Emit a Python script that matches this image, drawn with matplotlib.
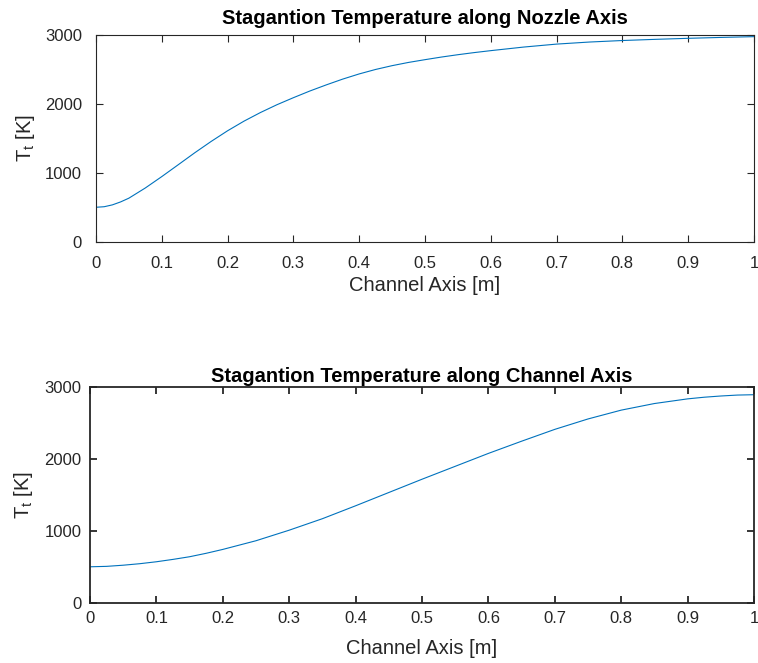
import numpy as np
import matplotlib.pyplot as plt
from matplotlib.ticker import FuncFormatter

plt.rcParams["font.family"] = "Liberation Sans"
plt.rcParams["mathtext.fontset"] = "custom"
plt.rcParams["mathtext.rm"] = "Liberation Sans"
plt.rcParams["mathtext.it"] = "Liberation Sans:italic"

# --- values ---
x_nozzle = [0.0, 0.0125, 0.025, 0.0375, 0.05, 0.075, 0.1, 0.125, 0.15, 0.175,
            0.2, 0.225, 0.25, 0.275, 0.3, 0.325, 0.35, 0.375, 0.4, 0.425,
            0.45, 0.475, 0.5, 0.525, 0.55, 0.575, 0.6, 0.65, 0.7, 0.75, 0.8,
            0.85, 0.9, 0.95, 1.0]
tt_nozzle = [500, 508, 535, 578, 632, 780, 945, 1117, 1290, 1455,
             1610, 1750, 1875, 1988, 2090, 2187, 2276, 2360, 2435, 2500,
             2555, 2602, 2642, 2680, 2714, 2745, 2773, 2825, 2868, 2898, 2920,
             2937, 2952, 2965, 2976]

x_channel = [0.0, 0.025, 0.05, 0.075, 0.1, 0.125, 0.15, 0.175, 0.2, 0.25, 0.3,
             0.35, 0.4, 0.45, 0.5, 0.55, 0.6, 0.65, 0.7, 0.75, 0.8, 0.85, 0.9,
             0.925, 0.95, 0.975, 1.0]
tt_channel = [500, 506, 522, 543, 570, 603, 640, 688, 742, 863, 1010,
              1170, 1350, 1535, 1720, 1900, 2080, 2250, 2415, 2560, 2683, 2775, 2840,
              2863, 2880, 2893, 2898]

xticks = np.round(np.arange(0, 1.01, 0.1), 1)
yticks = [0, 1000, 2000, 3000]

fig = plt.figure(figsize=(7.58, 6.63), dpi=100)
ax1 = fig.add_axes([0.1266, 0.6354, 0.868, 0.3118])
ax2 = fig.add_axes([0.1187, 0.0910, 0.876, 0.3247])

panels = [
    # axes, x, y, title, box line width, tick pad, xlabel pad, ylabel pad, title pad
    (ax1, x_nozzle, tt_nozzle, "Stagantion Temperature along Nozzle Axis",
     0.8, 10, 4, 6, 8),
    (ax2, x_channel, tt_channel, "Stagantion Temperature along Channel Axis",
     1.3, 6, 9, 7, 4),
]

for ax, xs, ys, title, bw, tpad, xpad, ypad, ttpad in panels:
    ax.plot(xs, ys, color="#0072BD", lw=0.8)
    ax.set_xlim(0, 1)
    ax.set_ylim(0, 3000)
    ax.set_xticks(xticks)
    ax.set_yticks(yticks)
    ax.xaxis.set_major_formatter(FuncFormatter(lambda v, p: "%g" % v))
    ax.tick_params(direction="in", top=True, right=True, length=5,
                   width=bw, labelsize=12, colors="#262626", pad=tpad)
    for s in ax.spines.values():
        s.set_color("#262626")
        s.set_linewidth(bw)
    ax.set_title(title, fontsize=14.5, fontweight="bold", pad=ttpad)
    ax.set_xlabel("Channel Axis [m]", fontsize=14.5, color="#262626", labelpad=xpad)
    ax.set_ylabel(r"T$_\mathrm{t}$ [K]", fontsize=14.5, color="#262626", labelpad=ypad)

plt.savefig("out.png", dpi=100)
